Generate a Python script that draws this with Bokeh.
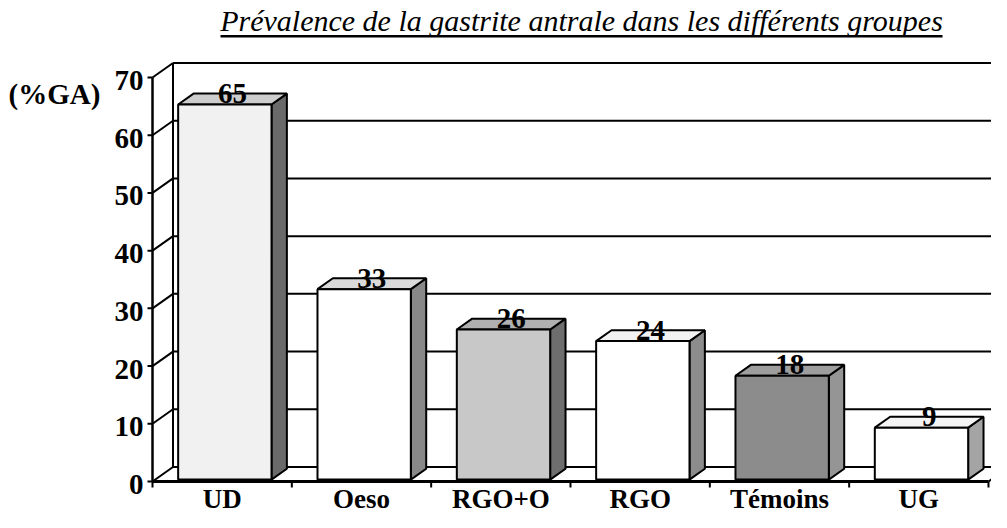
from bokeh.plotting import figure
from bokeh.models import Range1d, Label, BoxAnnotation
from bokeh.embed import file_html
from bokeh.resources import INLINE
from bokeh.core.properties import value

# ---------------- data ----------------
categories = ["UD", "Oeso", "RGO+O", "RGO", "Témoins", "UG"]
prevalence = [65, 33, 26, 24, 18, 9]
y_ticks = [0, 10, 20, 30, 40, 50, 60, 70]
y_max = 70
title_text = "Prévalence de la gastrite antrale dans les différents groupes"
y_unit_text = "(%GA)"

# ---------------- styles ----------------
front_colors = ["#f1f1f1", "#ffffff", "#c8c8c8", "#ffffff", "#8c8c8c", "#ffffff"]
top_colors = ["#cdcdcd", "#dadada", "#b0b0b0", "#f2f2f2", "#9e9e9e", "#f4f4f4"]
side_colors = ["#6a6a6a", "#888888", "#6e6e6e", "#8c8c8c", "#959595", "#a4a4a4"]
FONT = value("Liberation Serif")

W, H = 991, 512
ORIGIN_X, ORIGIN_Y = 152, 481   # pixel position of data (0, 0) in the figure
PX_X = 139.33                   # pixels per category
PX_Y = (481 - 77) / 70          # pixels per percent

x_start = -ORIGIN_X / PX_X
x_end = (W - ORIGIN_X) / PX_X
y_start = -(H - ORIGIN_Y) / PX_Y
y_end = ORIGIN_Y / PX_Y

DX = 20.5 / PX_X     # depth offset of the walls (x)
DY = 14.5 / PX_Y     # depth offset of the walls (y)
Z0, Z1 = 0.13, 0.88  # bar depth span (fraction of floor depth)
BW = 0.67            # bar width in category units

p = figure(width=W, height=H, x_range=Range1d(x_start, x_end),
           y_range=Range1d(y_start, y_end), x_axis_type=None, y_axis_type=None,
           output_backend="svg", toolbar_location=None, min_border=0)
p.grid.visible = False
p.outline_line_color = None
p.background_fill_color = "white"
p.border_fill_color = "white"

n_cat = len(categories)

# back wall gridlines
p.segment(x0=[DX] * len(y_ticks), y0=[v + DY for v in y_ticks],
          x1=[x_end + 1] * len(y_ticks), y1=[v + DY for v in y_ticks],
          line_color="black", line_width=2)
# left wall
p.segment(x0=[0] * len(y_ticks), y0=y_ticks, x1=[DX] * len(y_ticks),
          y1=[v + DY for v in y_ticks], line_color="black", line_width=2)
p.segment(x0=[DX], y0=[DY], x1=[DX], y1=[y_max + DY], line_color="black", line_width=2)
# front vertical axis and its ticks
p.segment(x0=[0], y0=[0], x1=[0], y1=[y_max], line_color="black", line_width=2.5)
p.segment(x0=[0] * len(y_ticks), y0=y_ticks, x1=[-5 / PX_X] * len(y_ticks), y1=y_ticks,
          line_color="black", line_width=2)
# floor
p.segment(x0=[n_cat], y0=[0], x1=[n_cat + DX], y1=[DY], line_color="black", line_width=2)
p.segment(x0=[0], y0=[0], x1=[n_cat], y1=[0], line_color="black", line_width=3)
bounds = list(range(n_cat + 1))
p.segment(x0=bounds, y0=[0] * len(bounds), x1=bounds, y1=[-6 / PX_Y] * len(bounds),
          line_color="black", line_width=2)

# bars
centers = [i + 0.5 for i in range(n_cat)]
dz = Z1 - Z0
fx0 = [c - BW / 2 + Z0 * DX for c in centers]
fx1 = [c + BW / 2 + Z0 * DX for c in centers]
fy0 = [Z0 * DY] * n_cat
fy1 = [v + Z0 * DY for v in prevalence]

top_xs = [[a, b, b + dz * DX, a + dz * DX] for a, b in zip(fx0, fx1)]
top_ys = [[t, t, t + dz * DY, t + dz * DY] for t in fy1]
side_xs = [[b, b + dz * DX, b + dz * DX, b] for b in fx1]
side_ys = [[y0, y0 + dz * DY, t + dz * DY, t] for y0, t in zip(fy0, fy1)]

p.patches(xs=side_xs, ys=side_ys, fill_color=side_colors, line_color="black", line_width=2)
p.patches(xs=top_xs, ys=top_ys, fill_color=top_colors, line_color="black", line_width=2)
p.quad(left=fx0, right=fx1, bottom=fy0, top=fy1, fill_color=front_colors,
       line_color="black", line_width=2)

# value labels (centred on the back edge of each bar's top face)
label_x = [a + (b - a) / 2 + dz * DX / 2 for a, b in zip(fx0, fx1)]
label_y = [t + dz * DY for t in fy1]
p.text(x=label_x, y=label_y, text=[str(v) for v in prevalence], text_font=FONT,
       text_font_style="bold", text_font_size="29px", text_align="center",
       text_baseline="middle", text_color="black")

# y tick labels
p.text(x=[0] * len(y_ticks), y=y_ticks, text=[str(v) for v in y_ticks], text_font=FONT,
       text_font_style="bold", text_font_size="29px", text_align="right",
       text_baseline="middle", x_offset=-9, y_offset=3, text_color="black")

# category labels
p.text(x=centers, y=[0] * n_cat, text=categories, text_font=FONT,
       text_font_style="bold", text_font_size="27px", text_align="center",
       text_baseline="middle", y_offset=17, text_color="black")

# unit label
p.add_layout(Label(x=8, y=H - 93, x_units="screen", y_units="screen", text=y_unit_text,
                   text_font="Liberation Serif", text_font_style="bold", text_color="black",
                   text_font_size="29px", text_align="left", text_baseline="middle"))

# title + underline
p.add_layout(Label(x=581, y=H - 20, x_units="screen", y_units="screen", text=title_text,
                   text_font="Liberation Serif", text_font_style="italic", text_color="black",
                   text_font_size="30px", text_align="center", text_baseline="middle"))
p.add_layout(BoxAnnotation(left=220, right=942, bottom=H - 37, top=H - 34.5,
                           left_units="screen", right_units="screen",
                           bottom_units="screen", top_units="screen",
                           fill_color="black", fill_alpha=1, line_color=None))

open("out.html", "w").write(file_html(p, INLINE))
